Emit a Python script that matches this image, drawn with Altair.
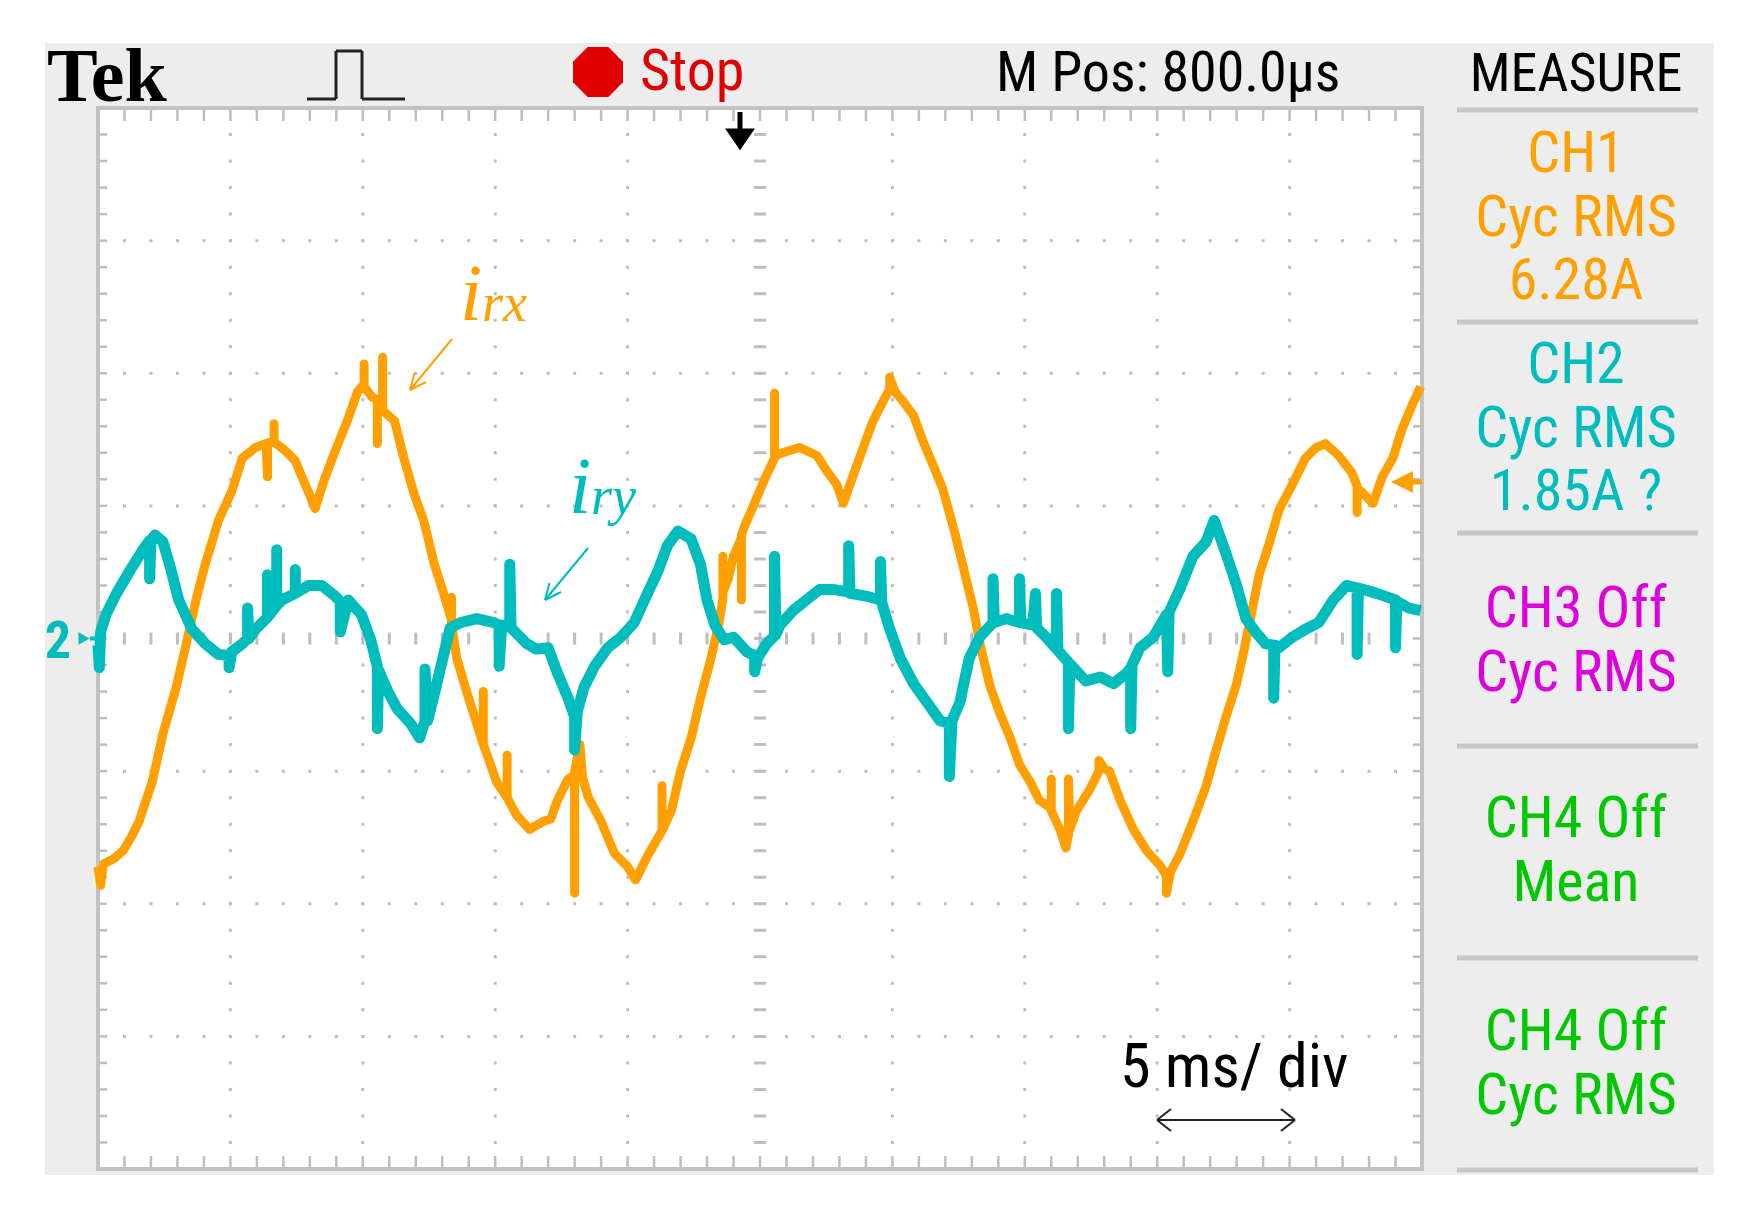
import altair as alt
import pandas as pd

# ---------------- data (divisions: t = 0..10 horizontal, v = -4..4 vertical) ----------------
irx_t = [0.00, 0.02, 0.04, 0.12, 0.19, 0.25, 0.31, 0.41, 0.49, 0.59, 0.66, 0.74, 0.81, 0.91,
         1.01, 1.09, 1.19, 1.27, 1.28, 1.28, 1.33, 1.33, 1.33, 1.41, 1.49, 1.54, 1.60, 1.64,
         1.71, 1.79, 1.89, 1.96, 2.01, 2.01, 2.01, 2.07, 2.11, 2.11, 2.11, 2.15, 2.15, 2.15,
         2.24, 2.31, 2.39, 2.46, 2.54, 2.61, 2.67, 2.67, 2.67, 2.71, 2.79, 2.86, 2.91, 2.91,
         2.91, 2.94, 3.01, 3.09, 3.09, 3.09, 3.16, 3.26, 3.36, 3.42, 3.47, 3.55, 3.60, 3.60,
         3.60, 3.64, 3.66, 3.70, 3.80, 3.90, 4.00, 4.06, 4.15, 4.26, 4.26, 4.26, 4.33, 4.40,
         4.48, 4.55, 4.63, 4.69, 4.72, 4.72, 4.72, 4.76, 4.80, 4.86, 4.86, 4.86, 4.88, 4.95,
         5.03, 5.11, 5.11, 5.11, 5.20, 5.30, 5.43, 5.50, 5.58, 5.63, 5.70, 5.78, 5.85, 5.93,
         5.98, 5.98, 6.02, 6.08, 6.16, 6.23, 6.31, 6.38, 6.46, 6.53, 6.61, 6.67, 6.74, 6.81,
         6.89, 6.96, 7.04, 7.11, 7.20, 7.20, 7.20, 7.27, 7.31, 7.33, 7.33, 7.34, 7.39, 7.49,
         7.56, 7.56, 7.60, 7.64, 7.72, 7.82, 7.92, 8.02, 8.07, 8.07, 8.10, 8.17, 8.27, 8.37,
         8.44, 8.52, 8.60, 8.66, 8.72, 8.77, 8.85, 8.92, 9.02, 9.12, 9.20, 9.27, 9.37, 9.47,
         9.51, 9.51, 9.51, 9.55, 9.63, 9.70, 9.78, 9.85, 9.93, 9.99]
irx_v = [-1.72, -1.86, -1.70, -1.66, -1.60, -1.50, -1.38, -1.08, -0.72, -0.37, -0.07, 0.29, 0.56, 0.89,
         1.11, 1.36, 1.44, 1.47, 1.22, 1.47, 1.50, 1.62, 1.48, 1.42, 1.34, 1.22, 1.08, 0.98,
         1.20, 1.41, 1.66, 1.86, 1.92, 2.07, 1.90, 1.82, 1.80, 1.47, 1.78, 1.74, 2.12, 1.72,
         1.64, 1.36, 1.08, 0.89, 0.56, 0.34, 0.14, 0.31, 0.10, -0.15, -0.42, -0.64, -0.80, -0.40,
         -0.80, -0.88, -1.08, -1.20, -0.88, -1.20, -1.33, -1.44, -1.38, -1.36, -1.22, -1.06, -1.03, -1.92,
         -1.00, -0.80, -1.05, -1.19, -1.38, -1.62, -1.72, -1.82, -1.64, -1.45, -1.11, -1.45, -1.30, -1.00,
         -0.75, -0.45, -0.15, 0.12, 0.30, 0.62, 0.35, 0.45, 0.62, 0.76, 0.29, 0.78, 0.84, 1.00,
         1.19, 1.36, 1.85, 1.38, 1.41, 1.44, 1.38, 1.27, 1.16, 1.02, 1.22, 1.44, 1.63, 1.79,
         1.88, 1.97, 1.86, 1.79, 1.68, 1.49, 1.30, 1.13, 0.84, 0.56, 0.23, -0.08, -0.37, -0.56,
         -0.75, -0.95, -1.08, -1.22, -1.28, -1.06, -1.30, -1.45, -1.58, -1.48, -1.06, -1.44, -1.30, -1.14,
         -1.00, -0.92, -0.98, -1.00, -1.22, -1.44, -1.60, -1.71, -1.79, -1.92, -1.76, -1.63, -1.38, -1.11,
         -0.86, -0.59, -0.34, -0.07, 0.23, 0.48, 0.73, 0.97, 1.16, 1.36, 1.44, 1.47, 1.38, 1.25,
         1.15, 0.95, 1.13, 1.10, 1.02, 1.22, 1.36, 1.58, 1.77, 1.90]

iry_t = [0.00, 0.01, 0.02, 0.06, 0.14, 0.24, 0.34, 0.39, 0.39, 0.40, 0.43, 0.49, 0.54, 0.61,
         0.71, 0.81, 0.91, 0.99, 0.99, 1.01, 1.09, 1.13, 1.13, 1.14, 1.19, 1.28, 1.28, 1.28,
         1.35, 1.35, 1.35, 1.39, 1.49, 1.49, 1.49, 1.59, 1.69, 1.79, 1.83, 1.83, 1.89, 1.99,
         2.06, 2.11, 2.11, 2.12, 2.19, 2.26, 2.36, 2.43, 2.47, 2.47, 2.49, 2.54, 2.59, 2.66,
         2.74, 2.86, 2.99, 3.03, 3.03, 3.05, 3.11, 3.11, 3.12, 3.24, 3.31, 3.40, 3.47, 3.55,
         3.60, 3.60, 3.62, 3.67, 3.75, 3.85, 3.95, 4.05, 4.15, 4.23, 4.30, 4.38, 4.48, 4.55,
         4.60, 4.66, 4.73, 4.80, 4.90, 4.96, 4.96, 4.98, 5.05, 5.11, 5.11, 5.12, 5.15, 5.25,
         5.35, 5.45, 5.55, 5.67, 5.67, 5.68, 5.80, 5.91, 5.91, 5.92, 5.98, 6.06, 6.16, 6.26,
         6.36, 6.43, 6.43, 6.45, 6.51, 6.58, 6.66, 6.76, 6.76, 6.77, 6.86, 6.96, 6.96, 6.97,
         7.06, 7.08, 7.09, 7.16, 7.24, 7.24, 7.25, 7.33, 7.33, 7.34, 7.46, 7.57, 7.67, 7.77,
         7.80, 7.80, 7.81, 7.87, 7.97, 8.07, 8.08, 8.09, 8.17, 8.27, 8.37, 8.43, 8.52, 8.60,
         8.67, 8.75, 8.82, 8.88, 8.88, 8.89, 8.92, 9.02, 9.12, 9.22, 9.33, 9.43, 9.51, 9.51,
         9.52, 9.66, 9.80, 9.80, 9.81, 9.90, 9.99]
iry_v = [-0.05, -0.22, 0.05, 0.18, 0.34, 0.51, 0.67, 0.74, 0.45, 0.74, 0.78, 0.73, 0.56, 0.29,
         0.07, -0.04, -0.12, -0.13, -0.22, -0.10, -0.04, 0.00, 0.23, 0.00, 0.07, 0.16, 0.48, 0.16,
         0.25, 0.67, 0.25, 0.29, 0.34, 0.52, 0.34, 0.40, 0.40, 0.32, 0.28, 0.05, 0.29, 0.18,
         -0.01, -0.21, -0.68, -0.24, -0.40, -0.53, -0.64, -0.75, -0.62, -0.23, -0.62, -0.42, -0.21, 0.08,
         0.12, 0.15, 0.12, 0.10, -0.21, 0.10, 0.09, 0.56, 0.08, -0.04, -0.08, -0.07, -0.26, -0.45,
         -0.59, -0.84, -0.55, -0.37, -0.21, -0.07, 0.01, 0.12, 0.34, 0.51, 0.70, 0.81, 0.75, 0.56,
         0.29, 0.10, -0.01, 0.01, -0.10, -0.13, -0.25, -0.15, -0.04, 0.02, 0.62, 0.03, 0.10, 0.21,
         0.29, 0.37, 0.37, 0.35, 0.70, 0.34, 0.32, 0.29, 0.58, 0.27, 0.07, -0.15, -0.34, -0.48,
         -0.62, -0.64, -1.04, -0.62, -0.48, -0.15, 0.01, 0.12, 0.45, 0.12, 0.15, 0.12, 0.45, 0.12,
         0.10, 0.34, 0.08, 0.01, -0.08, 0.34, -0.09, -0.18, -0.68, -0.19, -0.32, -0.29, -0.34, -0.26,
         -0.22, -0.68, -0.20, -0.07, 0.01, 0.18, -0.25, 0.20, 0.37, 0.62, 0.73, 0.89, 0.64, 0.40,
         0.15, 0.04, -0.04, -0.05, -0.45, -0.05, -0.07, 0.01, 0.07, 0.12, 0.29, 0.40, 0.38, -0.12,
         0.38, 0.34, 0.29, -0.07, 0.28, 0.23, 0.21]

trigger_level = 1.18          # CH1 trigger marker (divisions)
header_labels = ["Tek", "Stop", "M Pos: 800.0\u03bcs", "MEASURE"]
measure_labels = [["CH1", "Cyc RMS", "6.28A"],
                  ["CH2", "Cyc RMS", "1.85A ?"],
                  ["CH3 Off", "Cyc RMS"],
                  ["CH4 Off", "Mean"],
                  ["CH4 Off", "Cyc RMS"]]
timebase_label = "5 ms/ div"

# ---------------- style / layout ----------------
ORANGE = "#FFA000"
CYAN = "#00BDBD"
MAGENTA = "#DD00DD"
GREEN = "#00C800"
measure_colors = [ORANGE, CYAN, MAGENTA, GREEN, GREEN]
GRID = "#BEBEBE"
FRAME = "#EDEDED"
NARROW = "Liberation Sans Narrow, Roboto Condensed, Arial Narrow, Liberation Sans, sans-serif"

W, H = 1324, 1061          # graticule (plot area)
xs = alt.Scale(domain=[0, 10], nice=False, zero=False)
ys = alt.Scale(domain=[-4, 4], nice=False, zero=False)
one = alt.Data(values=[{"k": 0}])

layers = []


def rect(x, x2, y, y2, **kw):
    return alt.Chart(one).mark_rect(**kw).encode(
        x=alt.value(x), x2=alt.value(x2), y=alt.value(y), y2=alt.value(y2))


def seg(x, y, x2, y2, color, width):
    return alt.Chart(one).mark_rule(color=color, strokeWidth=width).encode(
        x=alt.value(x), x2=alt.value(x2), y=alt.value(y), y2=alt.value(y2))


def label(text, x, y, size, color, font=NARROW, align="center", weight="normal", style="normal"):
    return alt.Chart(one).mark_text(text=text, font=font, fontSize=size, color=color,
                                    align=align, baseline="alphabetic", fontWeight=weight,
                                    fontStyle=style).encode(x=alt.value(x), y=alt.value(y))


# frame and screen
layers.append(rect(-53, 1616, -65, 1067, color=FRAME))
layers.append(rect(0, W, 0, H, color="white"))

# graticule dotted lines
major_t = [1, 2, 3, 4, 6, 7, 8, 9]
major_v = [-3, -2, -1, 1, 2, 3]
layers.append(alt.Chart(pd.DataFrame({"t": major_t})).mark_rule(
    color=GRID, strokeWidth=3, strokeDash=[3, H / 40 - 3], strokeDashOffset=1.5).encode(
    x=alt.X("t:Q", scale=xs, axis=None), y=alt.value(0), y2=alt.value(H)))
layers.append(alt.Chart(pd.DataFrame({"v": major_v})).mark_rule(
    color=GRID, strokeWidth=3, strokeDash=[3, W / 50 - 3], strokeDashOffset=1.5).encode(
    y=alt.Y("v:Q", scale=ys, axis=None), x=alt.value(0), x2=alt.value(W)))
# centre lines (longer ticks)
layers.append(alt.Chart(pd.DataFrame({"t": [5]})).mark_rule(
    color=GRID, strokeWidth=12, strokeDash=[3, H / 40 - 3], strokeDashOffset=1.5).encode(
    x=alt.X("t:Q", scale=xs, axis=None), y=alt.value(0), y2=alt.value(H)))
layers.append(alt.Chart(pd.DataFrame({"v": [0]})).mark_rule(
    color=GRID, strokeWidth=12, strokeDash=[3, W / 50 - 3], strokeDashOffset=1.5).encode(
    y=alt.Y("v:Q", scale=ys, axis=None), x=alt.value(0), x2=alt.value(W)))

# edge ticks
minor_t = [i / 5 for i in range(51)]
minor_v = [-4 + i / 5 for i in range(41)]
tdf = pd.DataFrame({"t": minor_t})
vdf = pd.DataFrame({"v": minor_v})
layers.append(alt.Chart(tdf).mark_rule(color=GRID, strokeWidth=2.5).encode(
    x=alt.X("t:Q", scale=xs, axis=None), y=alt.value(0), y2=alt.value(13)))
layers.append(alt.Chart(tdf).mark_rule(color=GRID, strokeWidth=2.5).encode(
    x=alt.X("t:Q", scale=xs, axis=None), y=alt.value(H - 13), y2=alt.value(H)))
layers.append(alt.Chart(vdf).mark_rule(color=GRID, strokeWidth=2.5).encode(
    y=alt.Y("v:Q", scale=ys, axis=None), x=alt.value(0), x2=alt.value(9)))
layers.append(alt.Chart(vdf).mark_rule(color=GRID, strokeWidth=2.5).encode(
    y=alt.Y("v:Q", scale=ys, axis=None), x=alt.value(W - 9), x2=alt.value(W)))
# border
layers.append(rect(0, W, 0, H, filled=False, stroke="#C2C2C2", strokeWidth=4))

# traces
irx = pd.DataFrame({"t": irx_t, "v": irx_v, "i": range(len(irx_t))})
iry = pd.DataFrame({"t": iry_t, "v": iry_v, "i": range(len(iry_t))})
layers.append(alt.Chart(irx).mark_line(color=ORANGE, strokeWidth=9, strokeJoin="round").encode(
    x=alt.X("t:Q", scale=xs, axis=None), y=alt.Y("v:Q", scale=ys, axis=None), order="i:Q"))
layers.append(alt.Chart(iry).mark_line(color=CYAN, strokeWidth=11, strokeJoin="round").encode(
    x=alt.X("t:Q", scale=xs, axis=None), y=alt.Y("v:Q", scale=ys, axis=None), order="i:Q"))

# channel / trigger markers
layers.append(label("2", -40, 550, 52, CYAN, weight="bold"))
layers.append(alt.Chart(one).mark_point(shape="triangle-right", filled=True, opacity=1,
                                        color=CYAN, size=160).encode(
    x=alt.value(-14), y=alt.Y("k:Q", scale=ys, axis=None)))
layers.append(alt.Chart(one).mark_rule(color=CYAN, strokeWidth=4).encode(
    x=alt.value(-8), x2=alt.value(0), y=alt.Y("k:Q", scale=ys, axis=None)))
layers.append(alt.Chart(one).mark_point(shape="M-1,0L1,-1L1,1Z", filled=True, opacity=1,
                                        color=ORANGE, size=480).encode(
    x=alt.value(1304), y=alt.datum(trigger_level, scale=ys)))
layers.append(alt.Chart(one).mark_rule(color=ORANGE, strokeWidth=5).encode(
    x=alt.value(1312), x2=alt.value(W), y=alt.datum(trigger_level, scale=ys)))
layers.append(seg(642, 4, 642, 24, "black", 5))
layers.append(alt.Chart(one).mark_point(shape="M-1,-0.7L1,-0.7L0,0.75Z", filled=True, opacity=1,
                                        color="black", size=900).encode(
    x=alt.value(642), y=alt.value(31)))

# header bar
layers.append(label(header_labels[0], -51, -7, 76, "black", font="Liberation Serif",
                    align="left", weight="bold"))
# pulse icon
layers.append(seg(209, -9, 238, -9, "#222222", 3))
layers.append(seg(238, -9, 238, -57, "#222222", 3))
layers.append(seg(238, -57, 264, -57, "#222222", 3))
layers.append(seg(264, -57, 264, -9, "#222222", 3))
layers.append(seg(264, -9, 307, -9, "#222222", 3))
layers.append(alt.Chart(one).mark_point(
    shape="M-0.414,-1L0.414,-1L1,-0.414L1,0.414L0.414,1L-0.414,1L-1,0.414L-1,-0.414Z",
    filled=True, opacity=1, color="#E00000", size=2500).encode(x=alt.value(500), y=alt.value(-36)))
layers.append(label(header_labels[1], 542, -18, 58, "#E00000", align="left"))
layers.append(label(header_labels[2], 898, -17, 56, "black", align="left"))
layers.append(label(header_labels[3], 1478, -17, 54, "black"))

# measure panel
for yy in [2, 214, 425, 638, 850, 1062]:
    layers.append(seg(1359, yy, 1600, yy, "#C6C6C6", 5))
block_top = [64, 275, 519, 729, 942]
for lines, col, y0 in zip(measure_labels, measure_colors, block_top):
    for j, txt in enumerate(lines):
        layers.append(label(txt, 1478, y0 + 63.5 * j, 58, col))

# annotations
layers.append(label("i", 362, 212, 80, ORANGE, font="Liberation Serif", align="left", style="italic"))
layers.append(label("rx", 384, 213, 54, ORANGE, font="Liberation Serif", align="left", style="italic"))
layers.append(seg(354, 231, 312, 282, ORANGE, 2))
layers.append(seg(312, 282, 328, 274, ORANGE, 2))
layers.append(seg(312, 282, 316.5, 265, ORANGE, 2))

layers.append(label("i", 471, 405, 80, CYAN, font="Liberation Serif", align="left", style="italic"))
layers.append(label("ry", 493, 406, 54, CYAN, font="Liberation Serif", align="left", style="italic"))
layers.append(seg(490, 440, 447, 492, CYAN, 2))
layers.append(seg(447, 492, 463, 484, CYAN, 2))
layers.append(seg(447, 492, 451.5, 475, CYAN, 2))

# time-base annotation
layers.append(label(timebase_label, 1022, 979, 62, "black", align="left"))
layers.append(seg(1059, 1012, 1197, 1012, "#222222", 2))
layers.append(seg(1059, 1012, 1073, 1001, "#222222", 2))
layers.append(seg(1059, 1012, 1073, 1023, "#222222", 2))
layers.append(seg(1197, 1012, 1183, 1001, "#222222", 2))
layers.append(seg(1197, 1012, 1183, 1023, "#222222", 2))

chart = alt.layer(*layers).properties(
    width=W, height=H, autosize="none",
    padding={"left": 90, "top": 100, "right": 325, "bottom": 32},
).configure_view(strokeWidth=0)

chart.save("out.html", embed_options={"renderer": "svg", "actions": False})
